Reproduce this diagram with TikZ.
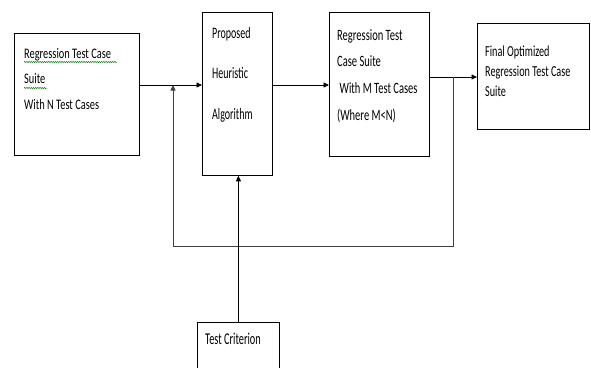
\documentclass[tikz,border=0pt]{standalone}
\usepackage{graphicx}
\usepackage{fontspec}
\setmainfont{Carlito}
\usetikzlibrary{arrows.meta,decorations.pathmorphing}
% tall text: #1 vertical stretch, #2 font size, #3 line pitch (before stretch), #4 lines
\newcommand{\talltext}[4]{\scalebox{1}[#1]{\fontsize{#2}{#3}\selectfont
    \begin{tabular}[t]{@{}l@{}}#4\end{tabular}}}

\begin{document}
\begin{tikzpicture}[x=1pt, y=-1pt,
    box/.style={draw, line width=0.8pt, anchor=north west, inner sep=0pt},
    txt/.style={anchor=base west, inner sep=0pt},
    arr/.style={-{Triangle[length=5.5pt,width=5pt]}, line width=0.8pt},
    spell/.style={green!50!black, line width=0.5pt, decorate,
        decoration={snake, amplitude=0.6pt, segment length=2.2pt}}]
    \useasboundingbox (0,0) rectangle (591,367);
    \clip (0,0) rectangle (591,367);

    % boxes
    \node[box, minimum width=125pt, minimum height=122pt] at (14,33) (b1) {};
    \node[box, minimum width=70pt, minimum height=163pt] at (202,12) (b2) {};
    \node[box, minimum width=100pt, minimum height=144pt] at (329,12) (b3) {};
    \node[box, minimum width=112pt, minimum height=106pt] at (477,23) (b4) {};
    \node[box, minimum width=82pt, minimum height=70pt] at (197,322) (b5) {};

    % texts
    \node[txt] at (24,58) (t1)
        {\talltext{1.4}{10.4}{18.4}{Regression Test Case\\Suite\\With N Test Cases}};
    \node[txt] at (212,38) (t2)
        {\talltext{1.6}{10}{25.6}{Proposed\\Heuristic\\Algorithm}};
    \node[txt] at (337,40) (t3)
        {\talltext{1.5}{10.5}{17.8}{Regression Test\\Case Suite\\\hspace{2.5pt}With M Test Cases\\(Where M<N)}};
    \node[txt] at (485,56) (t4)
        {\talltext{1.5}{10.2}{13.4}{Final Optimized\\Regression Test Case\\Suite}};
    \node[txt] at (205,344) (t5)
        {\talltext{1.6}{10.3}{12}{Test Criterion}};
    \draw[spell] (24,62) -- (117,62);
    \draw[spell] (24,88) -- (47,88);

    % connectors
    \coordinate (j1) at (173,85);
    \coordinate (j2) at (453,77);
    \draw[arr] (b1.east |- j1) -- (b2.west |- j1);
    \draw[arr] (b2.east |- j1) -- (b3.west |- j1);
    \draw[arr] (b3.east |- j2) -- (b4.west |- j2);
    \draw[arr, black!75] (j2) -- ++(0,169) -| (j1);
    \draw[arr] (b5.north) -- (b5.north |- b2.south);
\end{tikzpicture}
\end{document}
